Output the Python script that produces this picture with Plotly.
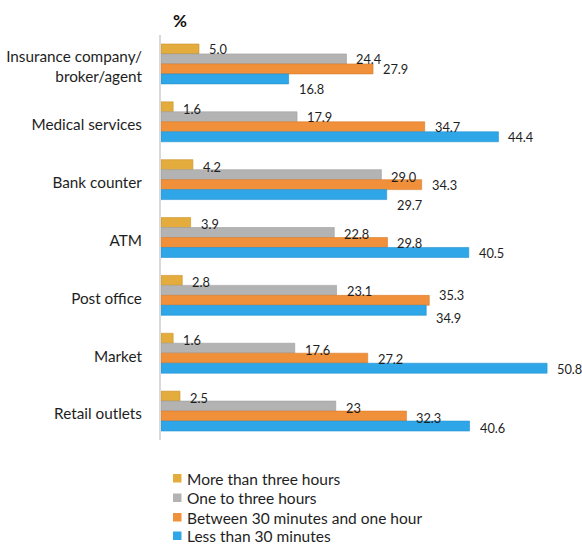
import plotly.graph_objects as go

categories = ["Insurance company/<br>broker/agent", "Medical services", "Bank counter",
              "ATM", "Post office", "Market", "Retail outlets"]

series_names = ["More than three hours", "One to three hours",
                "Between 30 minutes and one hour", "Less than 30 minutes"]
more_than_three_hours = [5.0, 1.6, 4.2, 3.9, 2.8, 1.6, 2.5]
one_to_three_hours = [24.4, 17.9, 29.0, 22.8, 23.1, 17.6, 23]
between_30_and_60 = [27.9, 34.7, 34.3, 29.8, 35.3, 27.2, 32.3]
less_than_30 = [16.8, 44.4, 29.7, 40.5, 34.9, 50.8, 40.6]
value_labels = [
    ["5.0", "1.6", "4.2", "3.9", "2.8", "1.6", "2.5"],
    ["24.4", "17.9", "29.0", "22.8", "23.1", "17.6", "23"],
    ["27.9", "34.7", "34.3", "29.8", "35.3", "27.2", "32.3"],
    ["16.8", "44.4", "29.7", "40.5", "34.9", "50.8", "40.6"],
]

colors = ["#E3AC3C", "#B3B3B3", "#F0903A", "#2EA6E8"]
edge_colors = ["#C9952E", "#9E9E9E", "#D87C2C", "#2592CF"]
series = [more_than_three_hours, one_to_three_hours, between_30_and_60, less_than_30]

# vertical nudge (px, positive = down) of each value label off its bar centre,
# so that neighbouring labels do not collide
label_dy = [
    [0, 2, 2.5, 1.5, 1.5, 2, 2],
    [0, 0, 2, 1, 1, 2, 2],
    [0, 0, 0, 1, -5, 1, 1.5],
    [10, 0, 10, 1, 8, 1, 2],
]

FONT = "Lato"
TXT = "#1E1E1E"

W, H = 582, 544
ML, MR, MT, MB = 161, 3, 35, 104
PW, PH = W - ML - MR, H - MT - MB
BARGAP = 0.31


def px_to_paper_x(px):
    return (px - ML) / PW


def px_to_paper_y(py):
    return (H - MB - py) / PH


fig = go.Figure()
for name, vals, c, ec in zip(series_names, series, colors, edge_colors):
    fig.add_trace(go.Bar(
        y=categories, x=vals, name=name, orientation="h",
        marker=dict(color=c, line=dict(color=ec, width=0.6)),
        showlegend=False,
    ))

# value labels sit just past each bar end
bar_h = PH / len(categories) * (1 - BARGAP) / 4
for k, (vals, labs) in enumerate(zip(series, value_labels)):
    centre = -(k - 1.5) * bar_h
    for j, (cat, v, lab) in enumerate(zip(categories, vals, labs)):
        fig.add_annotation(
            x=v, y=cat, text=lab, showarrow=False, xanchor="left",
            yanchor="middle", xshift=8, yshift=centre - label_dy[k][j],
            font=dict(family=FONT, size=12.8, color=TXT),
        )

# unit label above the axis
fig.add_annotation(
    x=px_to_paper_x(180), y=px_to_paper_y(20), xref="paper", yref="paper",
    xanchor="center", yanchor="middle",
    text="<b>%</b>", showarrow=False,
    font=dict(family=FONT, size=17, color="#111111"),
)

# key below the plot: colour squares with series names
legend_rows = [478.5, 498, 517.5, 536]
for name, c, row in zip(series_names, colors, legend_rows):
    fig.add_shape(
        type="rect", xref="paper", yref="paper",
        x0=px_to_paper_x(173), x1=px_to_paper_x(181.5),
        y0=px_to_paper_y(row - 4.5), y1=px_to_paper_y(row + 4),
        fillcolor=c, line=dict(width=0),
    )
    fig.add_annotation(
        x=px_to_paper_x(185), y=px_to_paper_y(row), xref="paper", yref="paper",
        text=name, showarrow=False, xanchor="left", yanchor="middle",
        font=dict(family=FONT, size=15.5, color=TXT),
    )

fig.update_layout(
    width=W, height=H,
    margin=dict(l=ML, r=MR, t=MT, b=MB, autoexpand=False),
    paper_bgcolor="white", plot_bgcolor="white",
    barmode="group", bargap=BARGAP, bargroupgap=0,
    showlegend=False,
    font=dict(family=FONT, size=15.3, color=TXT),
)
fig.update_xaxes(range=[0, 55], showgrid=False, showticklabels=False,
                 zeroline=False, showline=False, automargin=False)
fig.update_yaxes(range=[len(categories) - 0.5, -0.5], autorange=False,
                 showgrid=False, showline=True,
                 linecolor="#D9D9D9", linewidth=2, ticks="",
                 ticklabelstandoff=14, ticklabelshift=-3, automargin=False,
                 tickfont=dict(family=FONT, size=15.3, color=TXT))

fig.write_html("out.html")
